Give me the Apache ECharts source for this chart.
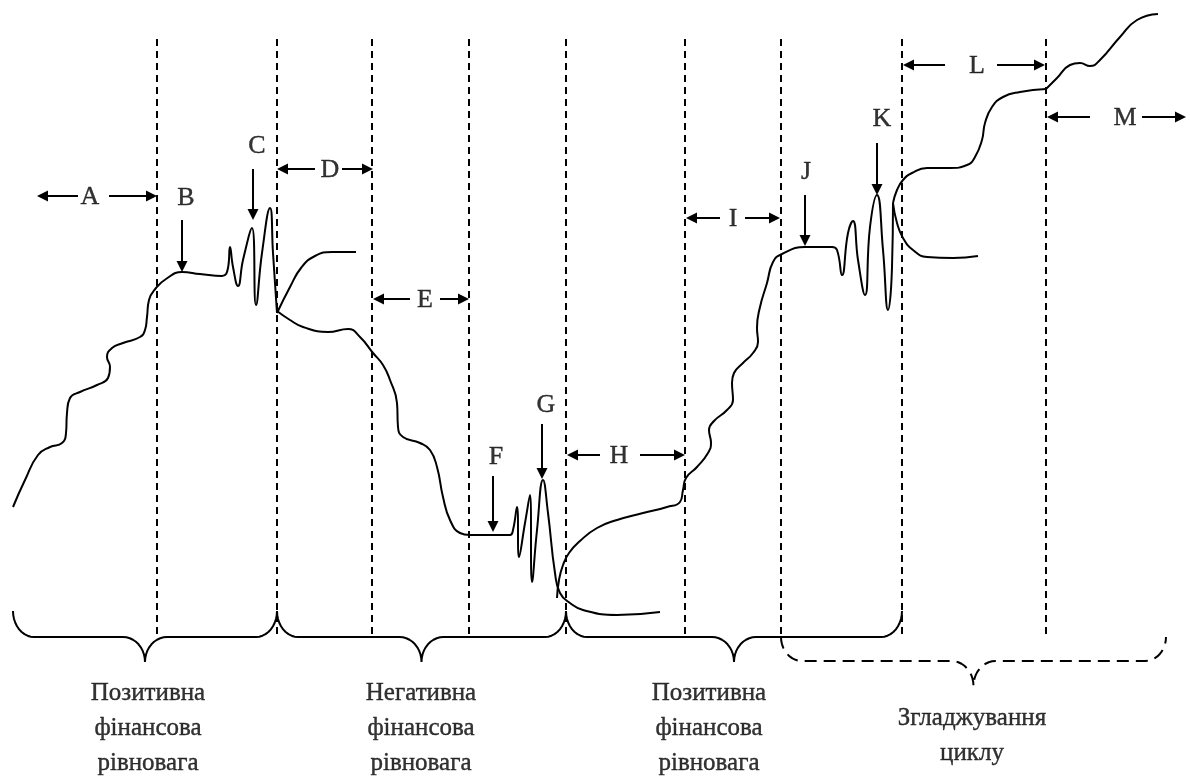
<!DOCTYPE html>
<html>
<head>
<meta charset="utf-8">
<script src="https://cdn.jsdelivr.net/npm/echarts@6/dist/echarts.min.js"></script>
<style>
  html, body { margin: 0; padding: 0; background: #fff; }
  #chart { width: 1190px; height: 776px; }
</style>
</head>
<body>
<div id="chart"></div>
<script>
// curve pieces as [x, y] in picture units, y grows downward
const riseA = [[13, 507], [25, 480], [38, 455], [50, 447], [62, 443], [66, 433], [67, 413], [70, 398],
  [80, 392], [97, 385], [108, 378], [110, 367], [107, 357], [112, 348], [123, 343], [140, 337],
  [145, 330], [147, 317], [149, 300], [156, 288], [166, 279], [182, 272], [200, 274], [222, 276],
  [228, 268], [230, 247], [233, 267], [238, 286], [243, 260], [252, 228], [256, 305], [262, 253],
  [270, 208], [273, 253], [277, 313]]
const branchD = [[277, 313], [290, 287], [301, 268], [315, 256], [332, 252], [356, 252]]
const fallE = [[277, 311], [290, 320], [303, 327], [328, 332], [348, 329], [360, 337], [373, 353],
  [383, 365], [390, 380], [397, 403], [398, 427], [403, 437], [420, 443], [430, 450], [437, 467],
  [443, 497], [450, 520], [460, 533], [470, 535], [487, 535], [510, 535], [513, 530], [517, 507],
  [519, 557], [525, 523], [530, 495], [532, 582], [537, 530], [543, 480], [548, 513], [555, 573],
  [560, 593], [570, 603], [583, 610], [617, 615], [660, 612]]
const riseH = [[557, 598], [559, 580], [563, 565], [569, 553], [580, 541], [597, 528], [617, 520],
  [643, 513], [667, 507], [680, 502], [683, 490], [686, 478], [697, 467], [708, 453], [711, 443],
  [709, 430], [714, 421], [727, 410], [733, 400], [732, 383], [734, 373], [743, 363], [753, 353],
  [758, 342], [757, 328], [760, 307], [767, 283], [773, 262], [782, 254], [805, 247], [832, 247],
  [837, 250], [842, 275], [848, 233], [853, 221], [858, 260], [865, 295], [870, 227], [877, 195],
  [883, 250], [888, 310], [892, 267], [893, 203]]
const stepL = [[893, 203], [897, 190], [903, 180], [912, 173], [927, 168], [950, 168], [967, 165],
  [975, 157], [982, 140], [985, 123], [992, 107], [1003, 97], [1020, 92], [1046, 89]]
const tailK = [[893, 203], [897, 223], [903, 238], [913, 250], [927, 257], [953, 258], [978, 256]]
const riseM = [[1046, 89], [1057, 78], [1070, 65], [1080, 63], [1090, 66], [1100, 60], [1120, 37],
  [1137, 20], [1158, 14]]

// vertical phase borders
const borderX = [157, 277, 372, 469, 566, 685, 781, 902, 1046]

// horizontal span labels: name, outer ends, inner shaft ends, level
const spanNames = ['A', 'D', 'E', 'H', 'I', 'L', 'M']
const spanFrom = [37, 277, 373, 567, 686, 903, 1047]
const spanTo = [157, 373, 469, 685, 780, 1045, 1186]
const spanInnerL = [78, 315, 410, 600, 720, 945, 1090]
const spanInnerR = [109, 342, 440, 640, 745, 997, 1142]
const spanY = [196, 169, 299, 455, 218, 65, 117]
const spanTextX = [90, 330, 425, 619, 733, 977, 1125]

// point labels with down arrows
const dropNames = ['B', 'C', 'F', 'G', 'J', 'K']
const dropX = [182, 253, 493, 542, 805, 877]
const dropTop = [220, 169, 476, 424, 195, 143]
const dropTip = [272, 220, 532, 479, 246, 195]
const dropTextX = [186, 257, 496, 546, 806, 882]
const dropTextY = [198, 146, 457, 405, 172, 119]

// braces under the phases
const braceFrom = [13, 277, 566]
const braceTo = [277, 566, 902]
const smoothFrom = 781
const smoothTo = 1166

const phaseTexts = ['Позитивна\nфінансова\nрівновага', 'Негативна\nфінансова\nрівновага',
  'Позитивна\nфінансова\nрівновага', 'Згладжування\nциклу']
const phaseX = [148, 421, 709, 972]
const phaseY = [728, 728, 728, 736]

const ink = '#000'
const font = '"Liberation Serif", "Times New Roman", serif'

function bracePoints(x0, x1, yEnd, yBar, yTip) {
  const cx = (x0 + x1) / 2
  const r = 21
  const rt = 22
  const n = 10
  const pts = []
  for (let i = 0; i <= n; i++) {
    const t = i / n * Math.PI / 2
    pts.push([x0 + r - r * Math.cos(t), yEnd + (yBar - yEnd) * Math.sin(t)])
  }
  for (let i = 0; i <= n; i++) {
    const t = i / n * Math.PI / 2
    pts.push([cx - rt + rt * Math.sin(t), yTip - (yTip - yBar) * Math.cos(t)])
  }
  for (let i = n; i >= 0; i--) {
    const t = i / n * Math.PI / 2
    pts.push([cx + rt - rt * Math.sin(t), yTip - (yTip - yBar) * Math.cos(t)])
  }
  for (let i = n; i >= 0; i--) {
    const t = i / n * Math.PI / 2
    pts.push([x1 - r + r * Math.cos(t), yEnd + (yBar - yEnd) * Math.sin(t)])
  }
  return pts
}

// pull the shaft end back so the head tip sits on the target
const head = 11
function arrow(x0, y0, x1, y1) {
  const len = Math.hypot(x1 - x0, y1 - y0)
  const k = (len - head / 2) / len
  return { coords: [[x0, y0], [x0 + (x1 - x0) * k, y0 + (y1 - y0) * k]] }
}

const arrows = []
spanNames.forEach((_, i) => {
  arrows.push(arrow(spanInnerL[i], spanY[i], spanFrom[i], spanY[i]))
  arrows.push(arrow(spanInnerR[i], spanY[i], spanTo[i], spanY[i]))
})
dropNames.forEach((_, i) => {
  arrows.push(arrow(dropX[i], dropTop[i], dropX[i], dropTip[i]))
})

const letters = spanNames.map((name, i) => ({ name, value: [spanTextX[i], spanY[i] + 1] }))
  .concat(dropNames.map((name, i) => ({ name, value: [dropTextX[i], dropTextY[i]] })))

const curveSeries = [riseA, branchD, fallE, riseH, stepL, tailK, riseM].map(pts => ({
  type: 'line',
  data: pts,
  smooth: 0.5,
  showSymbol: false,
  lineStyle: { color: ink, width: 2 },
  z: 3
}))

const braceSeries = braceFrom.map((x0, i) => ({
  type: 'line',
  data: bracePoints(x0, braceTo[i], 611, 637, 662),
  showSymbol: false,
  lineStyle: { color: ink, width: 2 }
}))

const textStyle = {
  show: true,
  position: 'inside',
  formatter: '{b}',
  color: ink,
  fontFamily: font,
  textBorderColor: ink,
  textBorderWidth: 0.4
}

const chart = echarts.init(document.getElementById('chart'))
chart.setOption({
  animation: false,
  grid: { left: 0, right: 0, top: 0, bottom: 0 },
  xAxis: { type: 'value', min: 0, max: 1190, show: false },
  yAxis: { type: 'value', min: 0, max: 776, inverse: true, show: false },
  series: [
    {
      type: 'lines',
      coordinateSystem: 'cartesian2d',
      data: borderX.map(x => ({ coords: [[x, 39], [x, 637]] })),
      lineStyle: { color: ink, width: 2, type: [7, 5], opacity: 1 },
      z: 1
    },
    ...curveSeries,
    ...braceSeries,
    {
      type: 'line',
      data: bracePoints(smoothFrom, smoothTo, 637, 661, 686),
      showSymbol: false,
      lineStyle: { color: ink, width: 2, type: [12, 7] }
    },
    {
      type: 'lines',
      coordinateSystem: 'cartesian2d',
      data: arrows,
      symbol: ['none', 'triangle'],
      symbolSize: head,
      lineStyle: { color: ink, width: 2, opacity: 1 },
      z: 4
    },
    {
      type: 'scatter',
      data: letters,
      symbolSize: 0,
      label: Object.assign({}, textStyle, { fontSize: 26 }),
      z: 5
    },
    {
      type: 'scatter',
      data: phaseTexts.map((name, i) => ({ name, value: [phaseX[i], phaseY[i]] })),
      symbolSize: 0,
      label: Object.assign({}, textStyle, { fontSize: 25, lineHeight: 35, align: 'center' }),
      z: 5
    }
  ]
})
window.addEventListener('resize', () => chart.resize())
</script>
</body>
</html>
